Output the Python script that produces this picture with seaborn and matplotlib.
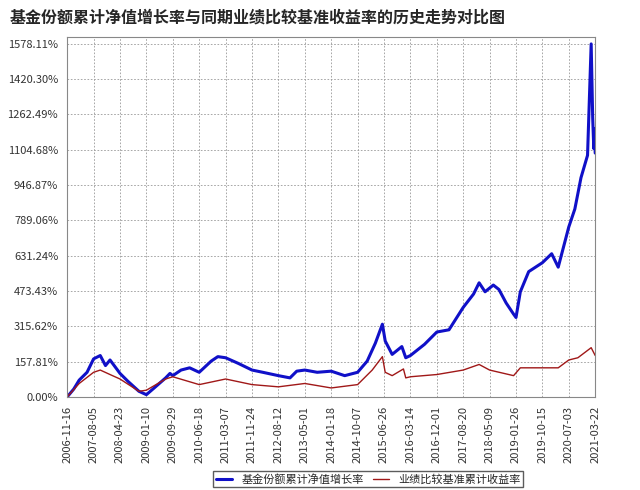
import numpy as np
import pandas as pd
import matplotlib
matplotlib.use("Agg")
import matplotlib.pyplot as plt
import matplotlib.dates as mdates
import seaborn as sns

# values (cumulative return, %)
fund_dates = ["2006-11-16", "2007-01-20", "2007-03-15", "2007-06-01", "2007-08-05", "2007-10-10",
              "2007-12-01", "2008-01-15", "2008-04-23", "2008-07-10", "2008-10-28", "2009-01-10",
              "2009-04-10", "2009-07-20", "2009-09-01", "2009-09-29", "2009-12-20", "2010-03-15",
              "2010-06-18", "2010-10-15", "2010-12-20", "2011-03-07", "2011-07-10", "2011-11-24",
              "2012-03-10", "2012-08-12", "2012-12-05", "2013-02-10", "2013-05-01", "2013-09-01",
              "2014-01-18", "2014-06-01", "2014-10-07", "2015-01-10", "2015-04-01", "2015-06-10",
              "2015-07-08", "2015-09-15", "2015-12-20", "2016-01-28", "2016-03-14", "2016-08-01",
              "2016-12-01", "2017-04-01", "2017-08-20", "2017-12-01", "2018-01-25", "2018-03-25",
              "2018-06-15", "2018-08-10", "2018-10-20", "2019-01-02", "2019-01-26", "2019-03-10",
              "2019-06-01", "2019-10-15", "2020-01-15", "2020-03-20", "2020-07-03", "2020-09-01",
              "2020-11-01", "2021-01-05", "2021-02-10", "2021-02-25", "2021-03-08", "2021-03-16",
              "2021-03-22"]
fund_vals = [0, 35, 75, 110, 170, 185, 140, 165, 105, 70, 25, 10,
             45, 85, 105, 95, 120, 130, 110, 160, 180, 175, 150, 120,
             110, 95, 85, 115, 120, 110, 115, 95, 110, 160, 240, 325,
             250, 190, 225, 175, 185, 235, 290, 300, 400, 460, 510, 470,
             500, 480, 420, 370, 355, 470, 560, 600, 640, 580, 760, 840,
             980, 1080, 1578, 1250, 1110, 1200, 1090]

bench_dates = ["2006-11-16", "2007-03-15", "2007-08-05", "2007-10-10", "2008-01-15", "2008-04-23",
               "2008-10-28", "2009-01-10", "2009-07-20", "2009-09-29", "2010-06-18", "2011-03-07",
               "2011-11-24", "2012-08-12", "2013-05-01", "2014-01-18", "2014-10-07", "2015-03-01",
               "2015-06-10", "2015-07-08", "2015-09-15", "2016-01-05", "2016-01-28", "2016-03-14",
               "2016-12-01", "2017-08-20", "2018-01-25", "2018-05-09", "2019-01-02", "2019-03-10",
               "2019-10-15", "2020-03-20", "2020-07-03", "2020-10-01", "2021-02-10", "2021-03-22"]
bench_vals = [0, 60, 110, 120, 100, 80, 25, 30, 80, 90, 55, 80,
              55, 45, 60, 40, 55, 120, 180, 110, 95, 125, 85, 90,
              100, 120, 145, 120, 95, 130, 130, 130, 165, 175, 220, 185]

yticks = [0.00, 157.81, 315.62, 473.43, 631.24, 789.06, 946.87, 1104.68, 1262.49, 1420.30, 1578.11]
xtick_labels = ["2006-11-16", "2007-08-05", "2008-04-23", "2009-01-10", "2009-09-29", "2010-06-18",
                "2011-03-07", "2011-11-24", "2012-08-12", "2013-05-01", "2014-01-18", "2014-10-07",
                "2015-06-26", "2016-03-14", "2016-12-01", "2017-08-20", "2018-05-09", "2019-01-26",
                "2019-10-15", "2020-07-03", "2021-03-22"]

fund_name = "基金份额累计净值增长率"
bench_name = "业绩比较基准累计收益率"

sns.set_style("white")
plt.rcParams["font.family"] = ["Noto Sans CJK SC", "DejaVu Sans"]

fund = pd.DataFrame({"date": pd.to_datetime(fund_dates), "val": fund_vals})
bench = pd.DataFrame({"date": pd.to_datetime(bench_dates), "val": bench_vals})

fig = plt.figure(figsize=(6.4, 4.9), dpi=100)
ax = fig.add_axes([0.105, 0.19, 0.825, 0.735])
sns.lineplot(data=fund, x="date", y="val", ax=ax, color="#1010c8", linewidth=2.2, label=fund_name)
sns.lineplot(data=bench, x="date", y="val", ax=ax, color="#a01818", linewidth=1.0, label=bench_name)

xt = pd.to_datetime(xtick_labels)
ax.set_xticks(xt)
ax.set_xticklabels(xtick_labels, rotation=90, fontsize=8, color="#333333")
ax.set_xlim(xt[0], xt[-1])
ax.set_yticks(yticks)
ax.set_yticklabels([f"{v:.2f}%" for v in yticks], fontsize=8, color="#333333")
ax.set_ylim(0, 1610)
ax.grid(True, color="#999999", linestyle=(0, (2, 2)), linewidth=0.6)
ax.set_xlabel("")
ax.set_ylabel("")
for s in ax.spines.values():
    s.set_color("#888888")
ax.tick_params(length=3, color="#888888")

fig.text(0.015, 0.965, "基金份额累计净值增长率与同期业绩比较基准收益率的历史走势对比图",
         fontsize=11.5, fontweight="bold", ha="left", va="center")
ax.legend(loc="upper center", bbox_to_anchor=(0.57, -0.19), ncol=2, fontsize=8,
          frameon=True, fancybox=False, edgecolor="#333333", handlelength=1.5,
          columnspacing=0.8, borderpad=0.25)
fig.savefig("out.png", dpi=100)
